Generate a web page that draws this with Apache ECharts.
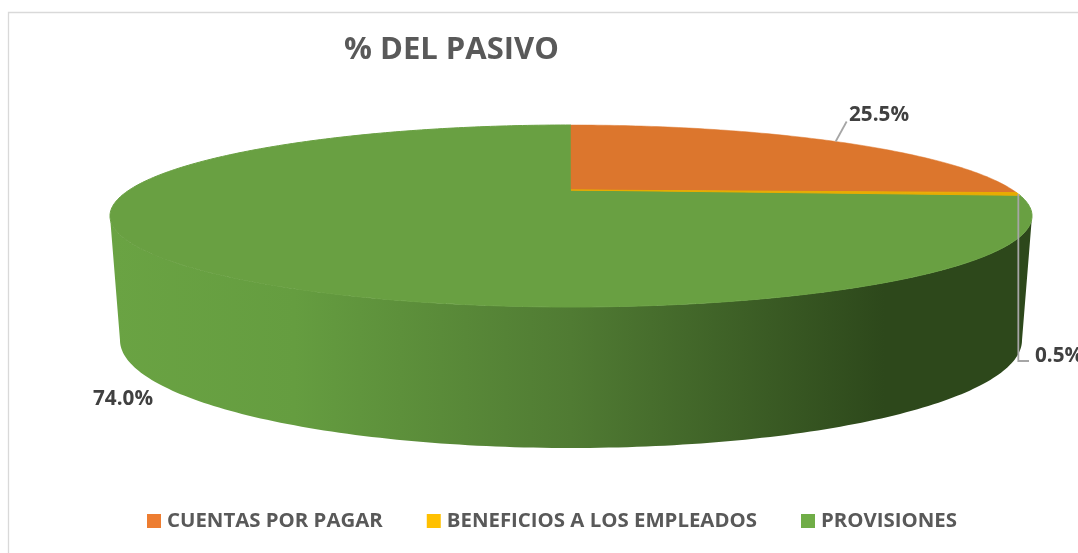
<!DOCTYPE html>
<html>
<head>
<meta charset="utf-8">
<style>
  html, body { margin: 0; padding: 0; background: #fff; }
  #chart { width: 1078px; height: 553px; }
</style>
</head>
<body>
<div id="chart"></div>
<script src="https://cdn.jsdelivr.net/npm/echarts@6/dist/echarts.min.js"></script>
<script>
const titleText = '% DEL PASIVO'
const categories = ['CUENTAS POR PAGAR', 'BENEFICIOS A LOS EMPLEADOS', 'PROVISIONES']
const values = [25.5, 0.5, 74.0]
const legendColors = ['#ED7D31', '#FFC000', '#70AD47']
const topColors = ['#DC762D', '#E8AC00', '#69A042']

const myChart = echarts.init(document.getElementById('chart'))
const FONT = '"Open Sans", sans-serif'

// perspective of the disc: top plane and bottom plane of the pie
const topPlane = { y: 190, a: 441.8, b: 83.57 }
const bottomPlane = { y: 309.4, a: 432.2, b: 99 }
const CX = 571
const PERSP = 0.2857

const project = (pct, plane) => {
  const t = pct / 100 * Math.PI * 2
  const u = Math.sin(t)
  const v = -Math.cos(t)
  const d = 1 - PERSP * v
  return [CX + plane.a * u / d, plane.y + plane.b * v / d]
}

const arc = (from, to, plane) => {
  const pts = []
  const n = Math.max(2, Math.ceil((to - from) * 4))
  for (let i = 0; i <= n; i++) pts.push(project(from + (to - from) * i / n, plane))
  return pts
}

// where the side wall shows: between both widest points of the rim
const WALL_FROM = 29.61
const WALL_TO = 70.39

const labelStyle = (text, x, y) => ({
  type: 'text',
  style: { text, x, y, fill: '#404040', font: 'bold 20.7px ' + FONT, textVerticalAlign: 'middle' }
})

const leader = (points) => ({
  type: 'polyline',
  shape: { points },
  style: { stroke: '#A6A6A6', lineWidth: 1.8, fill: null }
})

const renderSlice = (index) => (params, api) => {
  const start = api.value(0)
  const end = start + api.value(1)
  const children = []
  if (index === 2) {
    const wall = arc(WALL_FROM, WALL_TO, topPlane).concat(arc(WALL_FROM, WALL_TO, bottomPlane).reverse())
    children.push({
      type: 'polygon',
      shape: { points: wall },
      style: {
        fill: new echarts.graphic.LinearGradient(0, 0, 1, 0, [
          { offset: 0, color: '#6AA343' },
          { offset: 0.2, color: '#659D40' },
          { offset: 0.5, color: '#507B33' },
          { offset: 0.84, color: '#2D481B' },
          { offset: 1, color: '#2D481B' }
        ])
      }
    })
  }
  children.push({
    type: 'polygon',
    shape: { points: [project(0, { y: topPlane.y, a: 0, b: 0 })].concat(arc(start, end, topPlane)) },
    style: { fill: topColors[index], stroke: topColors[index], lineWidth: index === 0 ? 0.5 : 1 }
  })
  const text = api.value(1).toFixed(1) + '%'
  const mid = project((start + end) / 2, topPlane)
  if (index === 0) {
    children.push(leader([mid, [mid[0] + 11, mid[1] - 20]]))
    children.push(labelStyle(text, 849, 115))
  } else if (index === 1) {
    children.push(leader([mid, [mid[0], 361], [1029, 361]]))
    children.push(labelStyle(text, 1035, 356))
  } else {
    children.push(labelStyle(text, 93, 399))
  }
  return { type: 'group', children }
}

// green is drawn first so the thin slice and its leader stay on top
const seriesZ = [3, 4, 2]

let cumulative = 0
const series = categories.map((name, i) => {
  const start = cumulative
  cumulative += values[i]
  return {
    name,
    type: 'custom',
    coordinateSystem: 'none',
    silent: true,
    z: seriesZ[i],
    itemStyle: { color: legendColors[i] },
    renderItem: renderSlice(i),
    data: [[start, values[i]]]
  }
})

const option = {
  animation: false,
  title: {
    text: titleText,
    left: 339,
    top: 30,
    textStyle: { color: '#595959', fontFamily: FONT, fontWeight: 'bold', fontSize: 31 }
  },
  legend: {
    data: categories,
    left: 142,
    top: 506,
    icon: 'rect',
    itemWidth: 14,
    itemHeight: 14,
    itemGap: 44,
    selectedMode: false,
    textStyle: { color: '#595959', fontFamily: FONT, fontWeight: 'bold', fontSize: 20.4, padding: [0, 0, 0, 1] }
  },
  graphic: [
    { type: 'polyline', silent: true, shape: { points: [[8.5, 553], [8.5, 12.5], [1078, 12.5]] }, style: { stroke: '#D9D9D9', lineWidth: 1.3, fill: null } }
  ],
  series
}

myChart.setOption(option)
window.addEventListener('resize', () => myChart.resize())
</script>
</body>
</html>
